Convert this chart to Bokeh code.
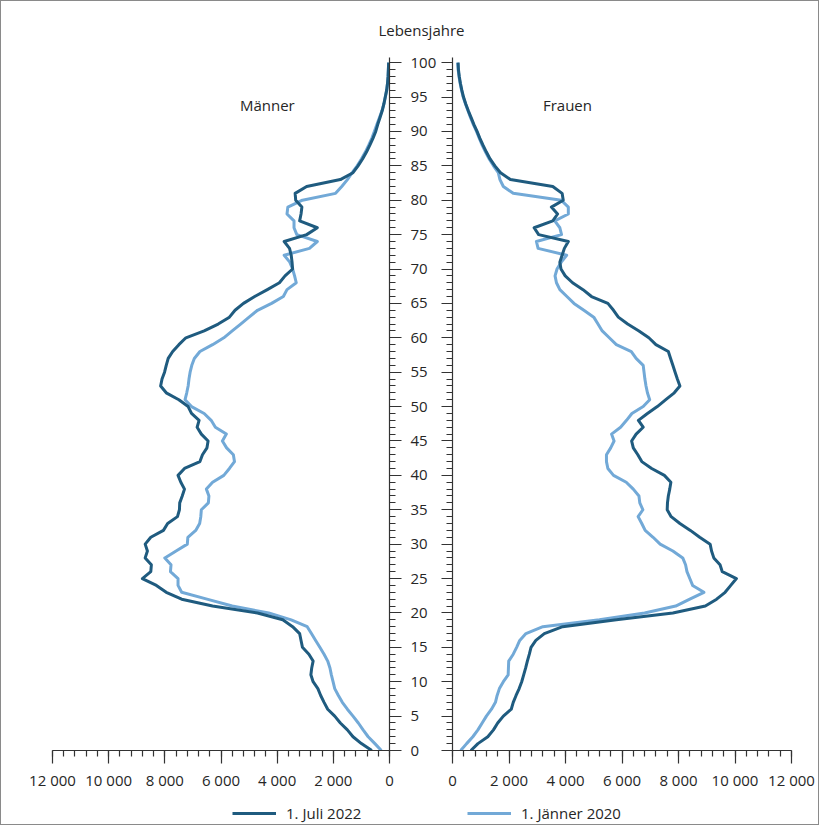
from bokeh.plotting import figure
from bokeh.models import (Range1d, SingleIntervalTicker, CustomJSTickFormatter, Label,
                          Legend, LegendItem, ColumnDataSource, CustomLabelingPolicy)
from bokeh.layouts import column, row
from bokeh.embed import file_html
from bokeh.resources import INLINE

# ---------------- data ----------------
ages = list(range(101))

men_2022 = [630, 1000, 1300, 1500, 1750, 1950, 2200, 2330, 2450, 2550,
            2720, 2800, 2770, 2720, 2870, 3100, 3150, 3200, 3450, 3800,
            4700, 6300, 7400, 7950, 8300, 8800, 8500, 8480, 8700, 8620,
            8700, 8500, 8050, 7900, 7550, 7480, 7470, 7380, 7300, 7430,
            7530, 7300, 6750, 6660, 6500, 6460, 6700, 6850, 6780, 7050,
            7170, 7500, 7950, 8150, 8100, 8010, 7950, 7880, 7720, 7500,
            7250, 6600, 6100, 5700, 5500, 5200, 4800, 4350, 3920, 3720,
            3450, 3470, 3500, 3560, 3750, 2950, 2570, 3200, 3150, 3120,
            3340, 3360, 2950, 1750, 1300, 1120, 960, 820, 700, 590,
            490, 420, 340, 260, 200, 150, 100, 70, 50, 40, 30]

men_2020 = [290, 520, 760, 940, 1110, 1300, 1500, 1680, 1820, 1950,
            2010, 2070, 2120, 2200, 2330, 2480, 2630, 2780, 2930, 3500,
            4300, 5600, 6500, 7400, 7530, 7530, 7800, 7780, 8000, 7600,
            7200, 7180, 6900, 6760, 6720, 6700, 6450, 6430, 6520, 6300,
            5900, 5700, 5520, 5560, 5800, 5950, 5810, 6200, 6350, 6600,
            7050, 7280, 7220, 7170, 7140, 7100, 7040, 6950, 6750, 6300,
            5900, 5600, 5300, 5000, 4700, 4200, 3780, 3650, 3320, 3380,
            3450, 3550, 3750, 2850, 2570, 3300, 3400, 3400, 3650, 3620,
            3100, 1920, 1700, 1500, 1330, 1150, 1000, 860, 740, 630,
            540, 450, 360, 270, 200, 150, 100, 70, 50, 40, 30]

women_2022 = [650, 900, 1250, 1450, 1600, 1800, 2080, 2150, 2250, 2360,
              2450, 2520, 2590, 2650, 2720, 2780, 2950, 3250, 3900, 5800,
              7800, 8950, 9350, 9650, 9850, 10050, 9550, 9470, 9250, 9170,
              9120, 8750, 8420, 8050, 7740, 7600, 7610, 7640, 7690, 7730,
              7500, 7050, 6700, 6560, 6400, 6340, 6500, 6750, 6580, 6900,
              7250, 7550, 7850, 8050, 7960, 7880, 7800, 7720, 7640, 7200,
              6950, 6600, 6200, 5870, 5700, 5500, 4920, 4620, 4250, 3990,
              3840, 3800, 3880, 3960, 4100, 3050, 2890, 3550, 3720, 3500,
              3920, 3880, 3550, 2050, 1700, 1500, 1330, 1200, 1080, 970,
              870, 760, 660, 560, 470, 390, 330, 280, 240, 210, 200]

women_2020 = [290, 500, 720, 900, 1050, 1200, 1380, 1520, 1580, 1660,
              1800, 1970, 1980, 1990, 2150, 2270, 2380, 2600, 3200, 5200,
              6800, 7900, 8400, 8900, 8500, 8400, 8300, 8250, 8150, 7800,
              7350, 7100, 6820, 6700, 6570, 6740, 6630, 6600, 6400, 6150,
              5700, 5500, 5450, 5450, 5600, 5720, 5630, 5950, 6160, 6350,
              6750, 6980, 6900, 6850, 6810, 6780, 6750, 6500, 6330, 5800,
              5550, 5300, 5150, 5000, 4650, 4300, 4050, 3800, 3680, 3630,
              3700, 3850, 4040, 3030, 2970, 3860, 3800, 3620, 4100, 4100,
              3850, 2150, 1800, 1680, 1620, 1450, 1300, 1170, 1050, 950,
              850, 740, 640, 550, 460, 380, 320, 270, 230, 200, 180]

series_labels = ["1. Juli 2022", "1. Jänner 2020"]
panel_labels = ["Männer", "Frauen"]
axis_title = "Lebensjahre"

# ---------------- style ----------------
FONT = "Open Sans"
TXT = "#262626"
AX = "#333333"
DARK = "#1f5b7f"
LIGHT = "#72a9d7"
FS = "15px"
LW = 3

src = ColumnDataSource(dict(age=ages, m22=men_2022, m20=men_2020,
                            w22=women_2022, w20=women_2020))

fmt = CustomJSTickFormatter(code="""
const s = Math.round(Math.abs(tick)).toString();
return s.replace(/\\B(?=(\\d{3})+(?!\\d))/g, " ");
""")

hide_all = CustomLabelingPolicy(code="""
for (const i of indices)
  indices.unset(i)
""")


def style_axis_common(ax):
    ax.axis_line_color = AX
    ax.axis_line_width = 1.2
    ax.major_tick_line_color = AX
    ax.minor_tick_line_color = AX
    ax.major_tick_line_width = 1.2
    ax.minor_tick_line_width = 1.2
    ax.major_tick_in = 0
    ax.minor_tick_in = 0
    ax.major_label_text_font = FONT
    ax.major_label_text_font_size = FS
    ax.major_label_text_color = TXT


def style_x(ax):
    style_axis_common(ax)
    ax.ticker = SingleIntervalTicker(interval=2000, num_minor_ticks=5)
    ax.formatter = fmt
    ax.major_tick_out = 13
    ax.minor_tick_out = 6
    ax.major_label_standoff = 6


def style_y(ax, labels=True, out=12):
    style_axis_common(ax)
    ax.ticker = SingleIntervalTicker(interval=5, num_minor_ticks=5)
    ax.major_tick_out = out
    ax.minor_tick_out = 6
    if labels:
        ax.major_label_standoff = 9
    else:
        ax.major_label_text_font_size = "0px"
        ax.major_label_standoff = 0
        ax.major_label_policy = hide_all


H = 752
YR = (0, 100.75)
MB = dict(min_border_top=16, min_border_bottom=43)

# ---- left panel (Männer) ----
left = figure(width=438, height=H, x_range=Range1d(12000, 0), y_range=Range1d(*YR),
              y_axis_location="right", toolbar_location=None, output_backend="svg",
              min_border_left=51, min_border_right=48, **MB)
left.grid.visible = False
left.outline_line_color = None
style_x(left.xaxis[0])
style_y(left.yaxis[0], labels=True, out=12)

left.line("m20", "age", source=src, line_color=LIGHT, line_width=LW, line_join="round")
left.line("m22", "age", source=src, line_color=DARK, line_width=LW, line_join="round")

left.add_layout(Label(x=4350, y=93.8, text=panel_labels[0], text_align="center",
                      text_baseline="middle", text_font=FONT, text_font_size=FS,
                      text_color=TXT))

# ---- right panel (Frauen) ----
right = figure(width=379, height=H, x_range=Range1d(0, 12000), y_range=Range1d(*YR),
               y_axis_location="left", toolbar_location=None, output_backend="svg",
               min_border_left=13, min_border_right=27, **MB)
right.grid.visible = False
right.outline_line_color = None
style_x(right.xaxis[0])
style_y(right.yaxis[0], labels=False, out=11)

right.line("w20", "age", source=src, line_color=LIGHT, line_width=LW, line_join="round")
right.line("w22", "age", source=src, line_color=DARK, line_width=LW, line_join="round")

right.add_layout(Label(x=4070, y=93.8, text=panel_labels[1], text_align="center",
                       text_baseline="middle", text_font=FONT, text_font_size=FS,
                       text_color=TXT))

# ---- title strip ----
top = figure(width=817, height=40, x_range=Range1d(0, 1), y_range=Range1d(0, 1),
             x_axis_location=None, y_axis_location=None, toolbar_location=None,
             output_backend="svg", min_border=0)
top.grid.visible = False
top.outline_line_color = None
top.add_layout(Label(x=0.514, y=0.3, text=axis_title, text_align="center",
                     text_baseline="middle", text_font=FONT, text_font_size=FS,
                     text_color=TXT))

# ---- legend strip (the series' renderers, ranges chosen so only the keys show) ----
bottom = figure(width=817, height=31, x_range=Range1d(-1, 0), y_range=Range1d(-1, 0),
                x_axis_location=None, y_axis_location=None, toolbar_location=None,
                output_backend="svg", min_border=0)
bottom.grid.visible = False
bottom.outline_line_color = None
key22 = bottom.line("m22", "age", source=src, line_color=DARK, line_width=LW)
key20 = bottom.line("m20", "age", source=src, line_color=LIGHT, line_width=LW)


def make_legend(label, rend, x_off):
    return Legend(items=[LegendItem(label=label, renderers=[rend])],
                  location=(x_off, 1), orientation="horizontal", padding=0, margin=0,
                  border_line_color=None, background_fill_alpha=0, glyph_width=44,
                  glyph_height=20, label_height=20, label_standoff=10,
                  label_text_font=FONT, label_text_font_size=FS, label_text_color=TXT)


bottom.add_layout(make_legend(series_labels[0], key22, 231))
bottom.add_layout(make_legend(series_labels[1], key20, 466))

layout = column(top, row(left, right), bottom, spacing=0,
                styles={"border": "1px solid #8a8a8a"})

open("out.html", "w").write(file_html(layout, INLINE))
